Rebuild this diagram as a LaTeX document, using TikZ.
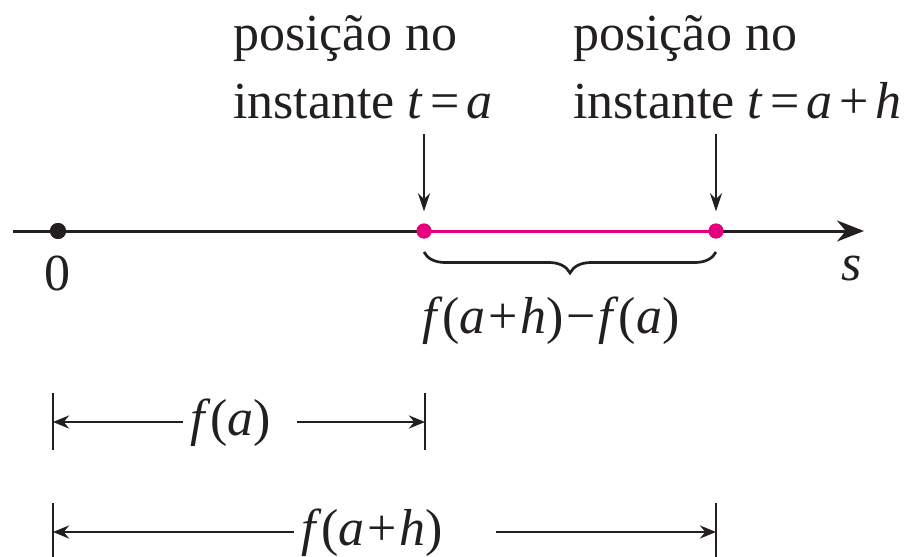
\documentclass[tikz,border=0pt]{standalone}
\usepackage{fontspec}
\setmainfont{Liberation Serif}
\usetikzlibrary{arrows.meta,decorations.pathreplacing}
\definecolor{ink}{RGB}{35,31,32}
\definecolor{mag}{RGB}{230,0,126}
\tikzset{
  lbl/.style={inner sep=0pt, anchor=base west, text=ink},
  axisline/.style={draw=ink, line width=3pt, -{Stealth[length=27pt,width=21pt]}},
  segline/.style={draw=mag, line width=3pt},
  blackdot/.style={circle, fill=ink, inner sep=0pt, minimum size=16pt},
  magdot/.style={circle, fill=mag, inner sep=0pt, minimum size=15pt},
  pointer/.style={draw=ink, line width=2.7pt, -{Stealth[length=18pt,width=12pt]}},
  bracestyle/.style={draw=ink, line width=2.7pt, decorate,
    decoration={brace, mirror, amplitude=21pt}},
  dimarrow/.style={draw=ink, line width=2.8pt, -{Stealth[length=16pt,width=13pt]}},
  dimbar/.style={draw=ink, line width=2.8pt},
}
\newcommand{\iv}[1]{\textit{#1}}
\newcommand{\opA}[1]{\kern0.13em#1\kern0.13em}
\newcommand{\opB}[1]{\kern0.05em#1\kern0.05em}
\begin{document}
\begin{tikzpicture}[x=1pt,y=-1pt, font=\fontsize{52}{62}\selectfont]
\useasboundingbox (0,0) rectangle (906,557);
% axis
\coordinate (axL) at (13,231);
\coordinate (axR) at (864,231);
\node[blackdot] (O) at (58,231) {};
\node[magdot] (A) at (424,231) {};
\node[magdot] (B) at (716,231) {};
\draw[axisline] (axL) -- (axR);
\draw[segline] (A.center) -- (B.center);
\node[blackdot] at (O) {};
\node[magdot] at (A) {};
\node[magdot] at (B) {};
\node[lbl, anchor=base] (zero) at (58,290) {0};
\node[lbl, anchor=base] (slab) at (852,280) {\iv{s}};
% top labels
\node[lbl] (pA1) at (233,50) {posição no};
\node[lbl] (pA2) at (233,118) {instante \iv{t}\opA{=}\iv{a}};
\node[lbl] (pB1) at (573,50) {posição no};
\node[lbl] (pB2) at (573,118) {instante \iv{t}\opA{=}\iv{a}\opA{+}\iv{h}};
% pointers
\coordinate (tA) at (424,134);
\coordinate (tB) at (716,134);
\draw[pointer, shorten >=12pt] (tA) -- (A.north);
\draw[pointer, shorten >=12pt] (tB) -- (B.north);
% brace
\coordinate (brL) at (424,252);
\coordinate (brR) at (716,252);
\draw[bracestyle] (brL) -- (brR);
\node[lbl] (diff) at (422,333) {\iv{f}(\iv{a}\opB{+}\iv{h})\opB{−}\iv{f}(\iv{a})};
% dimension row 1
\coordinate (b1t) at (53,393); \coordinate (b1b) at (53,450);
\coordinate (b2t) at (425,393); \coordinate (b2b) at (425,450);
\draw[dimbar] (b1t) -- (b1b);
\draw[dimbar] (b2t) -- (b2b);
\node[lbl] (fa) at (190,435) {\iv{f}(\iv{a})};
\coordinate (r1a) at (183,422); \coordinate (r1b) at (297,422);
\coordinate (r1L) at (53,422); \coordinate (r1R) at (425,422);
\draw[dimarrow] (r1a) -- (r1L);
\draw[dimarrow] (r1b) -- (r1R);
% dimension row 2
\coordinate (c1t) at (53,503); \coordinate (c1b) at (53,560);
\coordinate (c2t) at (716,503); \coordinate (c2b) at (716,560);
\draw[dimbar] (c1t) -- (c1b);
\draw[dimbar] (c2t) -- (c2b);
\node[lbl] (fah) at (301,545) {\iv{f}(\iv{a}\opB{+}\iv{h})};
\coordinate (r2a) at (294,532); \coordinate (r2b) at (496,532);
\coordinate (r2L) at (53,532); \coordinate (r2R) at (716,532);
\draw[dimarrow] (r2a) -- (r2L);
\draw[dimarrow] (r2b) -- (r2R);
\end{tikzpicture}
\end{document}
